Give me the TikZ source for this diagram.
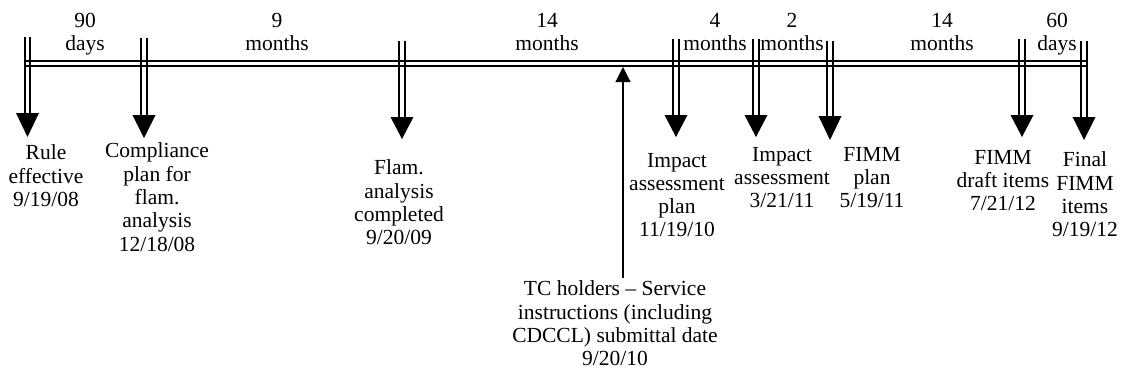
\documentclass[tikz,border=0pt]{standalone}
\usepackage{fontspec}
\setmainfont{Liberation Serif}
\usetikzlibrary{arrows.meta}
\tikzset{
  rail/.style={line width=1.8pt},
  headfill/.style={fill=black},
  lbl/.style={anchor=north, align=center, inner sep=0pt, outer sep=0pt,
    font=\fontsize{21.5}{23.3}\selectfont},
  pointer/.style={line width=1.1pt, -{Triangle[length=15pt,width=15pt]}},
}
% \tlmarker{name}{x}{ytop}{yhead}{ytip}
\newcommand\tlmarker[5]{%
  \coordinate (#1top) at (#2,#3);
  \coordinate (#1head) at (#2,#4);
  \coordinate (#1tip) at (#2,#5);
  \draw[rail] ([xshift=-2.7pt]#1top) -- ([xshift=-2.7pt]#1head);
  \draw[rail] ([xshift=2.7pt]#1top) -- ([xshift=2.7pt]#1head);
  \fill[headfill] (#1tip) -- ([xshift=-11.5pt]#1head) -- ([xshift=11.5pt]#1head) -- cycle;
}
\begin{document}
\begin{tikzpicture}[x=1pt,y=-1pt]
\useasboundingbox (0,0) rectangle (1122,381);
% main timeline
\coordinate (tlstart) at (26,63.5);
\coordinate (tlend) at (1087,63.5);
\draw[rail] ([yshift=2.4pt]tlstart) -- ([yshift=2.4pt]tlend);
\draw[rail] ([yshift=-2.4pt]tlstart) -- ([yshift=-2.4pt]tlend);
% markers
\tlmarker{rule}{27.5}{37}{113}{137}
\tlmarker{comp}{144}{38}{115}{138}
\tlmarker{flam}{402}{41}{117}{139}
\tlmarker{impp}{676}{39}{115}{137}
\tlmarker{impa}{756}{39}{115}{137}
\tlmarker{fimp}{830}{41}{116}{140}
\tlmarker{fimd}{1022}{39}{115}{137}
\tlmarker{fin}{1084}{41}{117}{140}
% interval labels
\node[lbl] (d1) at (85,13) {90\\days};
\node[lbl] (d2) at (277,13) {9\\months};
\node[lbl] (d3) at (547,13) {14\\months};
\node[lbl] (d4) at (715,13) {4\\months};
\node[lbl] (d5) at (792,13) {2\\months};
\node[lbl] (d6) at (942,13) {14\\months};
\node[lbl] (d7) at (1057,13) {60\\days};
% event labels
\node[lbl] (lrule) at (46,145) {Rule\\effective\\9/19/08};
\node[lbl] (lcomp) at (157,143) {Compliance\\plan for\\flam.\\analysis\\12/18/08};
\node[lbl] (lflam) at (399,160) {Flam.\\analysis\\completed\\9/20/09};
\node[lbl] (limpp) at (677,153) {Impact\\assessment\\plan\\11/19/10};
\node[lbl] (limpa) at (782,147) {Impact\\assessment\\3/21/11};
\node[lbl] (lfimp) at (872,147) {FIMM\\plan\\5/19/11};
\node[lbl] (lfimd) at (1003,150) {FIMM\\draft items\\7/21/12};
\node[lbl] (lfin) at (1085,152) {Final\\FIMM\\items\\9/19/12};
\node[lbl] (ltc) at (615,281) {TC holders -- Service\\instructions (including\\CDCCL) submittal date\\9/20/10};
% TC pointer
\coordinate (tcfoot) at (623,278);
\coordinate (tctip) at (623,67);
\draw[pointer] (tcfoot) -- (tctip);
\end{tikzpicture}
\end{document}
